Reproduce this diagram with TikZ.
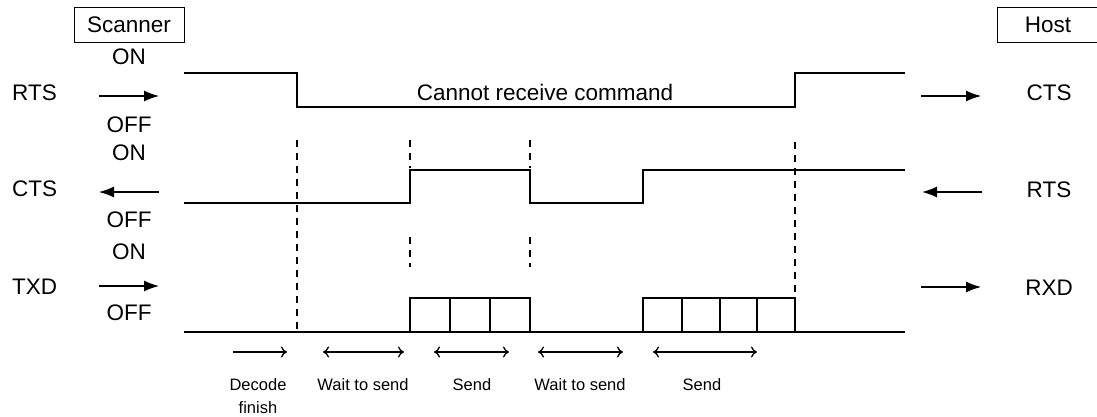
\documentclass[tikz,border=0pt]{standalone}
\usepackage{fontspec}
\setmainfont{Liberation Sans}
\usetikzlibrary{arrows.meta}

\begin{document}
\begin{tikzpicture}[x = 1pt, y = -1pt,
    tag/.style = {font = \fontsize{22.5}{26}\selectfont, inner sep = 0pt},
    phase/.style = {font = \fontsize{16.5}{23}\selectfont, inner sep = 0pt, align = center},
    party/.style = {tag, draw, line width = 1pt, minimum height = 35pt},
    signal/.style = {line width = 1.6pt},
    guide/.style = {line width = 1.3pt, dash pattern = on 7pt off 6pt},
    port/.style = {-{Latex[length = 15pt, width = 11pt]}, line width = 1.3pt},
    span/.style = {{To[length = 6pt, width = 11pt]}-{To[length = 6pt, width = 11pt]}, line width = 1.3pt},
    lead/.style = {-{To[length = 6pt, width = 11pt]}, line width = 1.3pt}]
  \useasboundingbox (0,0) rectangle (1097,417);

  % scanner side
  \node[party, minimum width = 110pt] (scanner) at (129,25) {Scanner};
  \node[tag] (on1)  at (129,57)  {ON};
  \node[tag] (off1) at (129,125) {OFF};
  \node[tag] (on2)  at (129,153) {ON};
  \node[tag] (off2) at (129,220) {OFF};
  \node[tag] (on3)  at (129,252) {ON};
  \node[tag] (off3) at (129,313) {OFF};
  \node[tag, anchor = west] (rtsL) at (12,93)  {RTS};
  \node[tag, anchor = west] (ctsL) at (12,189) {CTS};
  \node[tag, anchor = west] (txdL) at (12,287) {TXD};
  \coordinate (rtsA) at (99,96);  \coordinate (rtsB) at (159,96);
  \coordinate (ctsA) at (159,192); \coordinate (ctsB) at (99,192);
  \coordinate (txdA) at (99,286); \coordinate (txdB) at (159,286);
  \path[port] (rtsA) edge (rtsB) (ctsA) edge (ctsB) (txdA) edge (txdB);

  % host side
  \node[party, minimum width = 102pt] (host) at (1048,25) {Host};
  \node[tag] (ctsR) at (1049,93)  {CTS};
  \node[tag] (rtsR) at (1049,190) {RTS};
  \node[tag] (rxdR) at (1049,288) {RXD};
  \coordinate (ctsC) at (921,96);  \coordinate (ctsD) at (981,96);
  \coordinate (rtsC) at (982,192); \coordinate (rtsD) at (922,192);
  \coordinate (rxdC) at (921,287); \coordinate (rxdD) at (981,287);
  \path[port] (ctsC) edge (ctsD) (rtsC) edge (rtsD) (rxdC) edge (rxdD);

  % waveforms
  \draw[signal] (184,73) -| (297,107) -| (795,73) -- (905,73);
  \node[tag] (busy) at (545,92) {Cannot receive command};
  \draw[signal] (184,203) -| (410,170) -| (530,203) -| (643,170) -- (905,170);
  \draw[signal] (184,332) -- (905,332);
  \draw[signal] (410,298) rectangle (530,332);
  \foreach \x in {450,490} \draw[signal] (\x,298) -- (\x,332);
  \draw[signal] (643,298) rectangle (795,332);
  \foreach \x in {682,720,757} \draw[signal] (\x,298) -- (\x,332);

  % timing guides
  \draw[guide] (297,140) -- (297,332);
  \foreach \x in {410,530} {
    \draw[guide] (\x,140) -- (\x,168);
    \draw[guide] (\x,237) -- (\x,267);
  }
  \draw[guide] (795,142) -- (795,298);

  % phases
  \coordinate (dec1) at (233,352); \coordinate (dec2) at (287,352);
  \coordinate (wt1a) at (323,352); \coordinate (wt1b) at (404,352);
  \coordinate (sd1a) at (434,352); \coordinate (sd1b) at (509,352);
  \coordinate (wt2a) at (538,352); \coordinate (wt2b) at (623,352);
  \coordinate (sd2a) at (653,352); \coordinate (sd2b) at (757,352);
  \path[lead] (dec1) edge (dec2);
  \path[span] (wt1a) edge (wt1b) (sd1a) edge (sd1b)
              (wt2a) edge (wt2b) (sd2a) edge (sd2b);
  \node[phase] (decode) at (258,396) {Decode\\finish};
  \node[phase] (wait1)  at (363,385) {Wait to send};
  \node[phase] (send1)  at (472,385) {Send};
  \node[phase] (wait2)  at (580,385) {Wait to send};
  \node[phase] (send2)  at (702,385) {Send};
\end{tikzpicture}
\end{document}
